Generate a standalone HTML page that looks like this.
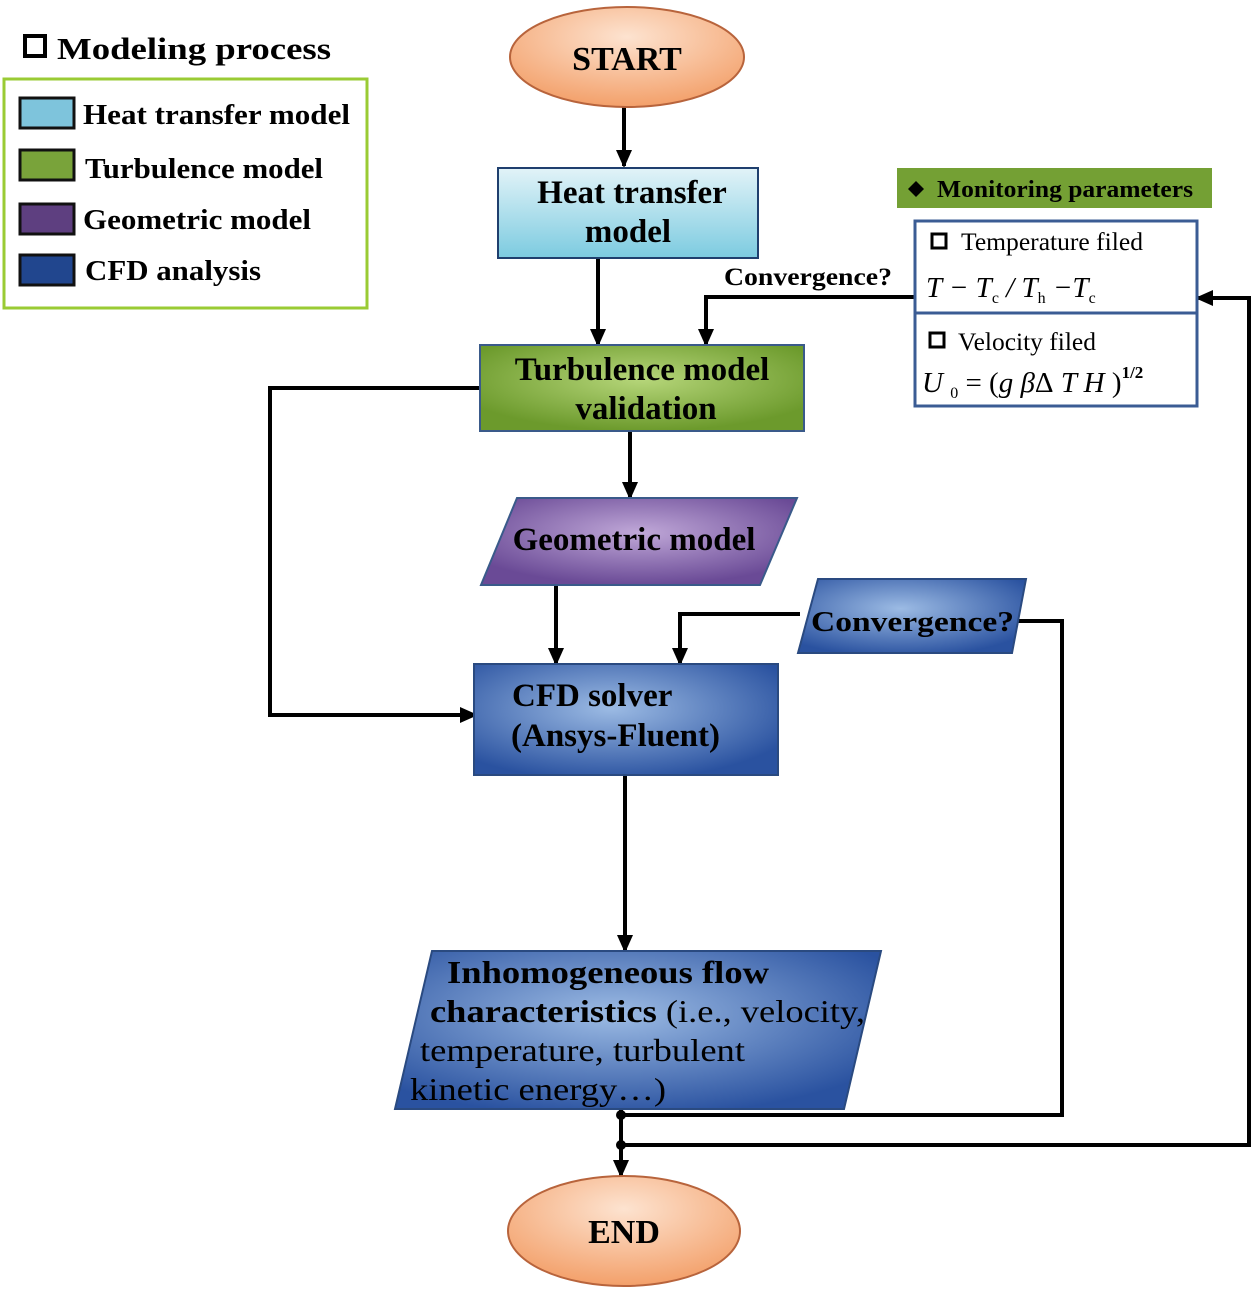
<!DOCTYPE html>
<html><head><meta charset="utf-8"><style>
html,body{margin:0;padding:0;background:#fff;}
svg{display:block;font-family:"Liberation Serif",serif;}
</style></head><body>
<svg width="1255" height="1291" viewBox="0 0 1255 1291" xmlns="http://www.w3.org/2000/svg">
<defs>
<radialGradient id="peach" cx="50%" cy="30%" r="70%"><stop offset="0" stop-color="#fde3d0"/><stop offset="1" stop-color="#f3a06a"/></radialGradient>
<linearGradient id="lb" x1="0" y1="0" x2="0" y2="1"><stop offset="0" stop-color="#e2f3f8"/><stop offset="1" stop-color="#7ccbe0"/></linearGradient>
<radialGradient id="gr" cx="50%" cy="40%" r="60%"><stop offset="0" stop-color="#b6d67a"/><stop offset="1" stop-color="#6c9a2c"/></radialGradient>
<radialGradient id="pu" cx="50%" cy="40%" r="60%"><stop offset="0" stop-color="#c0a8d8"/><stop offset="1" stop-color="#6a4a96"/></radialGradient>
<radialGradient id="bl" cx="45%" cy="40%" r="65%"><stop offset="0" stop-color="#9cbbe4"/><stop offset="1" stop-color="#2a52a0"/></radialGradient>
<marker id="ar" markerWidth="18" markerHeight="16" refX="16" refY="8" orient="auto" markerUnits="userSpaceOnUse"><path d="M0,0 L18,8 L0,16 z"/></marker>
</defs>

<!-- legend -->
<rect x="25" y="36" width="20" height="20" fill="none" stroke="#000" stroke-width="4"/>
<text x="57" y="59" font-size="31" font-weight="bold" textLength="274" lengthAdjust="spacingAndGlyphs">Modeling process</text>
<rect x="4" y="79" width="363" height="229" fill="#fff" stroke="#9acb34" stroke-width="3"/>
<rect x="20" y="98" width="54" height="30" fill="#7ec4dc" stroke="#111" stroke-width="3"/>
<rect x="20" y="150" width="54" height="30" fill="#79a33a" stroke="#111" stroke-width="3"/>
<rect x="20" y="204" width="54" height="30" fill="#5e3f80" stroke="#111" stroke-width="3"/>
<rect x="20" y="255" width="54" height="30" fill="#21468e" stroke="#111" stroke-width="3"/>
<g font-size="28" font-weight="bold">
<text x="83" y="124" textLength="267" lengthAdjust="spacingAndGlyphs">Heat transfer model</text>
<text x="85" y="178" textLength="238" lengthAdjust="spacingAndGlyphs">Turbulence model</text>
<text x="83" y="229" textLength="228" lengthAdjust="spacingAndGlyphs">Geometric model</text>
<text x="85" y="280" textLength="176" lengthAdjust="spacingAndGlyphs">CFD analysis</text>
</g>

<!-- connectors -->
<g stroke="#000" stroke-width="4" fill="none">
<line x1="624" y1="107" x2="624" y2="166" marker-end="url(#ar)"/>
<line x1="598" y1="258" x2="598" y2="345" marker-end="url(#ar)"/>
<polyline points="915,297 706,297 706,345" marker-end="url(#ar)"/>
<polyline points="480,388 270,388 270,715 476,715" marker-end="url(#ar)"/>
<line x1="630" y1="431" x2="630" y2="498" marker-end="url(#ar)"/>
<line x1="556" y1="585" x2="556" y2="664" marker-end="url(#ar)"/>
<polyline points="800,614 680,614 680,664" marker-end="url(#ar)"/>
<line x1="625" y1="775" x2="625" y2="951" marker-end="url(#ar)"/>
<polyline points="1012,621 1062,621 1062,1115 621,1115"/>
<polyline points="621,1145 1249,1145 1249,298 1197,298" marker-end="url(#ar)"/>
<line x1="621" y1="1109" x2="621" y2="1176" marker-end="url(#ar)"/>
</g>
<circle cx="621" cy="1115" r="5"/>
<circle cx="621" cy="1145" r="5"/>

<!-- START -->
<ellipse cx="627" cy="57" rx="117" ry="50" fill="url(#peach)" stroke="#b8643c" stroke-width="2"/>
<text x="627" y="70" font-size="34" font-weight="bold" text-anchor="middle">START</text>

<!-- Heat transfer -->
<rect x="498" y="168" width="260" height="90" fill="url(#lb)" stroke="#1f3f6e" stroke-width="2"/>
<g font-size="33" font-weight="bold" text-anchor="middle">
<text x="632" y="203">Heat transfer</text>
<text x="628" y="242">model</text>
</g>

<!-- Turbulence -->
<rect x="480" y="345" width="324" height="86" fill="url(#gr)" stroke="#3a5a8a" stroke-width="2"/>
<g font-size="33" font-weight="bold" text-anchor="middle">
<text x="642" y="380">Turbulence model</text>
<text x="646" y="419">validation</text>
</g>

<text x="724" y="285" font-size="25" font-weight="bold" textLength="168" lengthAdjust="spacingAndGlyphs">Convergence?</text>

<!-- Monitoring -->
<rect x="897" y="168" width="315" height="40" fill="#74a034"/>
<path d="M908,189 l8,-8 l8,8 l-8,8 z"/>
<text x="937" y="197" font-size="24" font-weight="bold" textLength="256" lengthAdjust="spacingAndGlyphs">Monitoring parameters</text>
<rect x="915" y="221" width="282" height="185" fill="#fff" stroke="#3b5c94" stroke-width="3"/>
<line x1="915" y1="313" x2="1197" y2="313" stroke="#3b5c94" stroke-width="3"/>
<rect x="932" y="234" width="14" height="14" fill="none" stroke="#000" stroke-width="3"/>
<text x="961" y="250" font-size="25" textLength="182" lengthAdjust="spacingAndGlyphs">Temperature filed</text>
<text x="926" y="297" font-size="29" font-style="italic">T − T<tspan font-size="16" font-style="normal" dy="6">c</tspan><tspan dy="-6"> / T</tspan><tspan font-size="16" font-style="normal" dy="6">h</tspan><tspan dy="-6"> −T</tspan><tspan font-size="16" font-style="normal" dy="6">c</tspan></text>
<rect x="930" y="333" width="14" height="14" fill="none" stroke="#000" stroke-width="3"/>
<text x="958" y="350" font-size="25" textLength="138" lengthAdjust="spacingAndGlyphs">Velocity filed</text>
<text x="922" y="392" font-size="29" font-style="italic">U <tspan font-size="16" font-style="normal" dy="6">0</tspan><tspan dy="-6" font-style="normal"> = (</tspan>g β<tspan font-style="normal">Δ</tspan> T H <tspan font-style="normal">)</tspan><tspan font-size="17" font-style="normal" font-weight="bold" dy="-14">1/2</tspan></text>

<!-- Geometric -->
<polygon points="517,498 797,498 760,585 481,585" fill="url(#pu)" stroke="#3a5a8a" stroke-width="2"/>
<text x="634" y="550" font-size="33" font-weight="bold" text-anchor="middle">Geometric model</text>

<!-- Convergence 2 -->
<polygon points="818,579 1026,579 1012,653 798,653" fill="url(#bl)" stroke="#2a4a80" stroke-width="2"/>
<text x="811" y="631" font-size="29" font-weight="bold" textLength="203" lengthAdjust="spacingAndGlyphs">Convergence?</text>

<!-- CFD -->
<rect x="474" y="664" width="304" height="111" fill="url(#bl)" stroke="#2a4a80" stroke-width="2"/>
<g font-size="33" font-weight="bold">
<text x="512" y="706">CFD solver</text>
<text x="511" y="746">(Ansys-Fluent)</text>
</g>

<!-- Inhomogeneous -->
<polygon points="432,951 881,951 844,1109 395,1109" fill="url(#bl)" stroke="#2a4a80" stroke-width="2"/>
<g font-size="32">
<text x="447" y="983" font-weight="bold" textLength="322" lengthAdjust="spacingAndGlyphs">Inhomogeneous flow</text>
<text x="430" y="1022" textLength="435" lengthAdjust="spacingAndGlyphs"><tspan font-weight="bold">characteristics</tspan> (i.e., velocity,</text>
<text x="420" y="1061" textLength="325" lengthAdjust="spacingAndGlyphs">temperature, turbulent</text>
<text x="410" y="1100" textLength="256" lengthAdjust="spacingAndGlyphs">kinetic energy…)</text>
</g>

<!-- END -->
<ellipse cx="624" cy="1231" rx="116" ry="55" fill="url(#peach)" stroke="#b8643c" stroke-width="2"/>
<text x="624" y="1243" font-size="34" font-weight="bold" text-anchor="middle">END</text>
</svg>
</body></html>
